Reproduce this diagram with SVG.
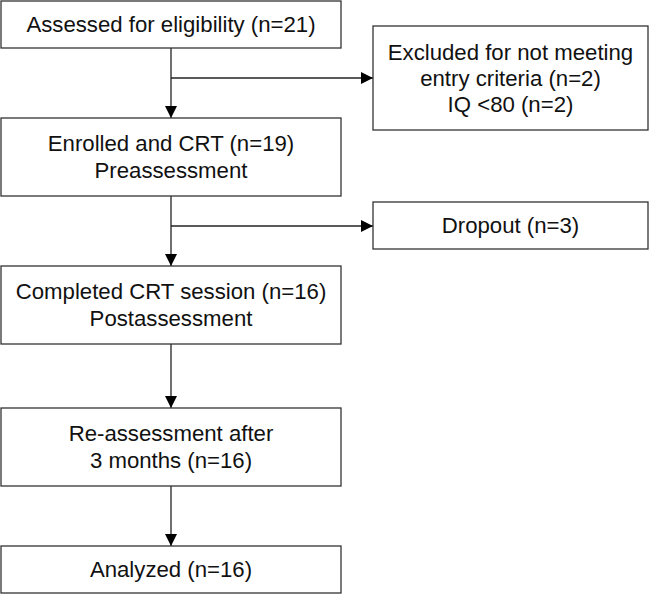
<svg xmlns="http://www.w3.org/2000/svg" width="650" height="595" viewBox="0 0 650 595">
<defs>
<style>
.box{fill:#fff;stroke:#333;stroke-width:1.3}
.t{font-family:"Liberation Sans",Arial,sans-serif;font-size:22.2px;fill:#111;text-anchor:middle}
.ln{stroke:#222;stroke-width:1.3;fill:none}
</style>
<marker id="ah" markerWidth="12" markerHeight="12" viewBox="0 0 12 12" refX="12" refY="6" orient="auto" markerUnits="userSpaceOnUse">
<path d="M0,0 L12,6 L0,12 Z" fill="#000"/>
</marker>
</defs>
<rect width="650" height="595" fill="#fff"/>
<g id="connectors">
<line class="ln" x1="171" y1="48" x2="171" y2="118" marker-end="url(#ah)"/>
<line class="ln" x1="171" y1="78" x2="373" y2="78" marker-end="url(#ah)"/>
<line class="ln" x1="171" y1="196" x2="171" y2="266" marker-end="url(#ah)"/>
<line class="ln" x1="171" y1="226" x2="373" y2="226" marker-end="url(#ah)"/>
<line class="ln" x1="171" y1="344" x2="171" y2="408" marker-end="url(#ah)"/>
<line class="ln" x1="171" y1="486" x2="171" y2="546" marker-end="url(#ah)"/>
</g>
<g id="assessed">
<rect class="box" x="1" y="1" width="340" height="47"/>
<text class="t" x="171" y="32">Assessed for eligibility (n=21)</text>
</g>
<g id="excluded">
<rect class="box" x="373" y="26" width="275" height="104"/>
<text class="t" x="510.5" y="60">Excluded for not meeting</text>
<text class="t" x="510.5" y="86">entry criteria (n=2)</text>
<text class="t" x="510.5" y="112">IQ &lt;80 (n=2)</text>
</g>
<g id="enrolled">
<rect class="box" x="1" y="118" width="340" height="78"/>
<text class="t" x="171" y="151">Enrolled and CRT (n=19)</text>
<text class="t" x="171" y="178">Preassessment</text>
</g>
<g id="dropout">
<rect class="box" x="373" y="202" width="275" height="47"/>
<text class="t" x="510.5" y="233">Dropout (n=3)</text>
</g>
<g id="completed">
<rect class="box" x="1" y="266" width="340" height="78"/>
<text class="t" x="171" y="299">Completed CRT session (n=16)</text>
<text class="t" x="171" y="326">Postassessment</text>
</g>
<g id="reassessment">
<rect class="box" x="1" y="408" width="340" height="78"/>
<text class="t" x="171" y="441">Re-assessment after</text>
<text class="t" x="171" y="468">3 months (n=16)</text>
</g>
<g id="analyzed">
<rect class="box" x="1" y="546" width="340" height="47"/>
<text class="t" x="171" y="577">Analyzed (n=16)</text>
</g>
</svg>
